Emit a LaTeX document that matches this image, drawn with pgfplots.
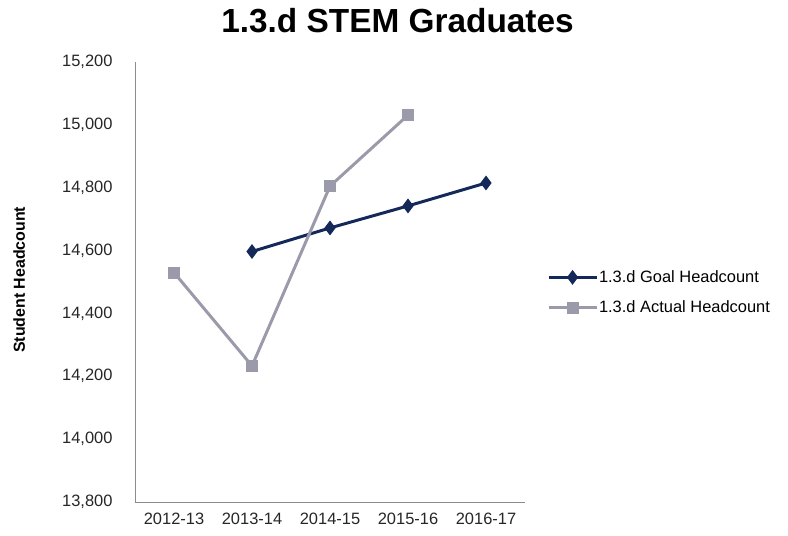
\documentclass[border=0pt]{standalone}
\usepackage{pgfplots}
\pgfplotsset{compat=1.18}
\usepackage{fontspec}
\setmainfont{Liberation Sans}
\definecolor{goal}{HTML}{14285A}
\definecolor{actual}{HTML}{9A9AAA}
\definecolor{axisgrey}{HTML}{8C8C8C}
\begin{document}
\begin{tikzpicture}[x=1bp,y=1bp]
\path (-135,-34) rectangle (653,502);
\begin{axis}[
  at={(0,0)}, anchor=south west,
  scale only axis, width=390bp, height=440bp,
  xmin=-0.5, xmax=4.5, ymin=13800, ymax=15200,
  xtick={0,1,2,3,4},
  xticklabels={2012-13,2013-14,2014-15,2015-16,2016-17},
  ytick={13800,14000,14200,14400,14600,14800,15000,15200},
  scaled y ticks=false,
  /pgf/number format/fixed,
  /pgf/number format/precision=0,
  /pgf/number format/1000 sep={,},
  /pgf/number format/assume math mode=true,
  /pgfplots/axis x line*=bottom, /pgfplots/axis y line*=left,
  /pgfplots/axis line style={axisgrey, line width=0.8pt, -},
  /pgfplots/major tick length=0pt,
  /pgfplots/yticklabel style={font=\fontsize{16.5}{18}\selectfont, text=black!85, xshift=-19bp},
  /pgfplots/xticklabel style={font=\fontsize{16.5}{18}\selectfont, text=black!85, yshift=-8bp},
  /pgfplots/ylabel={\bfseries Student Headcount},
  /pgfplots/ylabel style={font=\fontsize{16}{18}\selectfont, at={(axis description cs:-0.297,0.505)}, anchor=center},
  /pgfplots/legend style={at={(axis description cs:1.056,0.476)}, anchor=west, draw=none, fill=none,
    font=\fontsize{16.5}{18}\selectfont, row sep=13bp, inner sep=0pt,
    nodes={inner xsep=1bp}},
  /pgfplots/legend cell align=left,
  /pgfplots/legend image code/.code={\draw[mark repeat=2, mark phase=2, #1] plot coordinates {(0bp,0bp) (24bp,0bp) (48bp,0bp)};},
  /pgfplots/clip=false,
]
\addplot[goal, line width=3pt, mark=diamond*, mark size=5bp, mark options={solid}]
  coordinates {(1,14597) (2,14672) (3,14742) (4,14815)};
\addlegendentry{1.3.d Goal Headcount}
\addplot[actual, line width=3pt, mark=square*, mark size=5.5bp, mark options={solid, line width=0pt}]
  coordinates {(0,14530) (1,14233) (2,14805) (3,15031)};
\addlegendentry{1.3.d Actual Headcount}
\end{axis}
\node[font=\fontsize{33.5}{36}\selectfont\bfseries, anchor=base] at (262.5,469.7) {1.3.d STEM Graduates};
\end{tikzpicture}
\end{document}
